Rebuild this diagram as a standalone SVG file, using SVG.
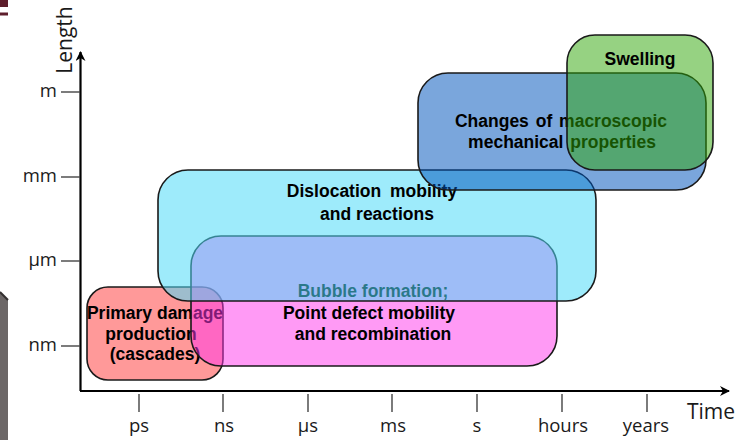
<svg xmlns="http://www.w3.org/2000/svg" width="741" height="440" viewBox="0 0 741 440">
<style>
.ax{font-family:"Open Sans","Liberation Sans",sans-serif;font-size:18.5px;fill:#1a1a1a}
.big{font-size:21px}
.lbl{font-family:"Liberation Sans",Arial,sans-serif;font-weight:bold;font-size:17.5px;fill:#000;text-anchor:middle}
.box{stroke:#1a1a1a;stroke-width:1.6}
.tick{stroke:#444;stroke-width:1.4}
</style>
<defs>
<marker id="ah" viewBox="0 0 10 10" refX="9" refY="5" markerWidth="10" markerHeight="10" markerUnits="userSpaceOnUse" orient="auto">
<path d="M0,0 L10,5 L0,10 L3,5 z" fill="#000"/>
</marker>
</defs>
<rect width="741" height="440" fill="#fff"/>
<g id="decor">
<rect x="0" y="0" width="8" height="7" fill="#5e1e2c"/>
<rect x="0" y="12.5" width="8" height="3" fill="#5e1e2c"/>
<polygon points="0,292 8,300 8,440 0,440" fill="#6c6767"/>
<line x1="0" y1="292" x2="8" y2="300" stroke="#332f2f" stroke-width="2"/>
</g>
<g id="axes">
<line x1="80.5" y1="391" x2="80.5" y2="52" stroke="#000" stroke-width="2.2" marker-end="url(#ah)"/>
<line x1="80" y1="391" x2="729" y2="391" stroke="#000" stroke-width="2.2" marker-end="url(#ah)"/>
<line class="tick" x1="61" y1="92" x2="80" y2="92"/>
<line class="tick" x1="61" y1="177" x2="80" y2="177"/>
<line class="tick" x1="61" y1="261" x2="80" y2="261"/>
<line class="tick" x1="61" y1="346" x2="80" y2="346"/>
<text class="ax" x="57" y="97" text-anchor="end">m</text>
<text class="ax" x="57" y="182" text-anchor="end">mm</text>
<text class="ax" x="57" y="266" text-anchor="end">µm</text>
<text class="ax" x="57" y="351" text-anchor="end">nm</text>
<line class="tick" x1="139" y1="394" x2="139" y2="412"/>
<line class="tick" x1="223" y1="394" x2="223" y2="412"/>
<line class="tick" x1="308" y1="394" x2="308" y2="412"/>
<line class="tick" x1="392" y1="394" x2="392" y2="412"/>
<line class="tick" x1="477" y1="394" x2="477" y2="412"/>
<line class="tick" x1="562" y1="394" x2="562" y2="412"/>
<line class="tick" x1="647" y1="394" x2="647" y2="412"/>
<g class="ax" text-anchor="middle">
<text x="139" y="432">ps</text>
<text x="224" y="432">ns</text>
<text x="308" y="432">µs</text>
<text x="393" y="432">ms</text>
<text x="477" y="432">s</text>
<text x="563" y="432">hours</text>
<text x="646" y="432">years</text>
</g>
<text class="ax big" x="711" y="419" text-anchor="middle">Time</text>
<text class="ax big" transform="translate(72,40) rotate(-90)" text-anchor="middle">Length</text>
</g>
<g id="primary">
<rect class="box" x="87" y="287" width="136" height="93" rx="21" fill="#ff9999"/>
<text class="lbl" x="155" y="319">Primary damage</text>
<text class="lbl" x="151" y="340">production</text>
<text class="lbl" x="155" y="360">(cascades)</text>
</g>
<g id="pointdefect">
<rect class="box" x="191" y="236" width="366" height="130" rx="30" fill="#ff35eb" fill-opacity="0.5"/>
<text class="lbl" x="373" y="297">Bubble formation;</text>
<text class="lbl" x="369" y="319">Point defect mobility</text>
<text class="lbl" x="373" y="340">and recombination</text>
</g>
<g id="dislocation">
<rect class="box" x="158" y="170" width="438" height="131" rx="30" fill="#4fdbf8" fill-opacity="0.55"/>
<text class="lbl" x="372" y="197" word-spacing="4">Dislocation mobility</text>
<text class="lbl" x="377" y="220">and reactions</text>
</g>
<g id="macroscopic">
<rect class="box" x="418" y="73" width="288" height="117" rx="30" fill="#0054bc" fill-opacity="0.52"/>
<text class="lbl" x="561" y="127" word-spacing="2">Changes of macroscopic</text>
<text class="lbl" x="562" y="148" word-spacing="2">mechanical properties</text>
</g>
<g id="swelling">
<rect class="box" x="567" y="35" width="146" height="135" rx="28" fill="#2da505" fill-opacity="0.5"/>
<text class="lbl" x="640" y="65">Swelling</text>
</g>
</svg>
